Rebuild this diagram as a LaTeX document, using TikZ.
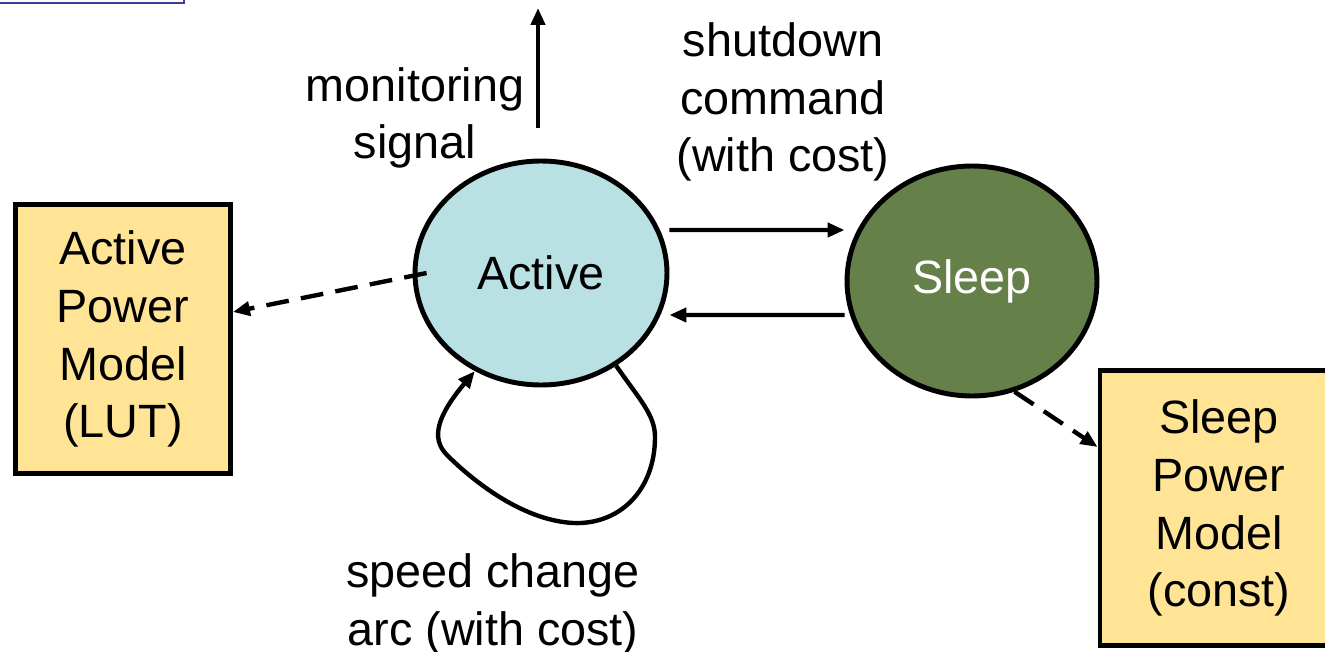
\documentclass[tikz,border=0pt]{standalone}
\usepackage{fontspec}
\setmainfont{Liberation Sans}
\usepackage{tikz}
\usetikzlibrary{
  arrows.meta,
  positioning,
  shapes.geometric
}
\definecolor{activeblue}{RGB}{185,224,227}
\definecolor{sleepgreen}{RGB}{102,128,74}
\definecolor{modelyellow}{RGB}{255,228,150}
\definecolor{framecol}{RGB}{60,60,160}

\begin{document}
\begin{tikzpicture}[
  x=0.02cm, y=-0.02cm,
  every node/.style={font=\fontsize{26.6}{32.9}\selectfont},
  state/.style={draw, ellipse, line width=2.8pt, fill=#1, inner sep=0pt},
  model/.style={draw, line width=2.8pt, fill=modelyellow, align=center, inner sep=0pt},
  txt/.style={align=center, inner sep=0pt},
  arrow/.style={-{Triangle[length=3.4mm, width=2.8mm]}, line width=2.5pt},
  dasharrow/.style={arrow, dash pattern=on 13pt off 7pt}
]
  \useasboundingbox (0,0) rectangle (1325,652);
  \clip (0,0) rectangle (1325,652);

  % Frame corner
  \draw[framecol, line width=1.2pt] (-10,3) -- (184,3) -- (184,-10);

  % States
  \node[state=activeblue, minimum width=5.04cm, minimum height=4.48cm] (act) at (541,273) {Active};
  \node[state=sleepgreen, text=white, minimum width=5cm, minimum height=4.6cm] (slp) at (972,281) {Sleep};

  % Power models
  \node[model, minimum width=4.3cm, minimum height=5.38cm] (apm) at (123,339) {Active\\Power\\Model\\(LUT)};
  \node[model, minimum width=4.76cm, minimum height=5.5cm] (spm) at (1219,508) {Sleep\\Power\\Model\\(const)};

  % Labels
  \node[txt] (monlbl) at (415,118) {monitoring\\signal};
  \node[txt] (shutlbl) at (783,102) {shutdown\\command\\(with cost)};
  \node[txt] (speedlbl) at (493,604) {speed change\\arc (with cost)};

  \coordinate (monbase) at (538,128);
  \coordinate (montip) at (538,8);

  % Arrows
  \draw[arrow] (monbase) -- (montip);
  \draw[arrow] ([yshift=0.86cm]act.east) -- ([yshift=1.02cm]slp.west);
  \draw[arrow] ([yshift=-0.68cm]slp.west) -- ([yshift=-0.84cm]act.east);
  \draw[dasharrow] ([xshift=0.28cm]act.west) -- ([yshift=0.54cm]apm.east);
  \draw[dasharrow] (slp.-69) -- ([yshift=1.22cm]spm.west);
  \draw[arrow] (act.-51) .. controls (640,400) and (655,415) .. (655,437)
    .. controls (655,490) and (620,525) .. (573,523)
    .. controls (520,520) and (470,478) .. (447,455)
    .. controls (430,438) and (438,415) .. (act.-124);
\end{tikzpicture}
\end{document}
